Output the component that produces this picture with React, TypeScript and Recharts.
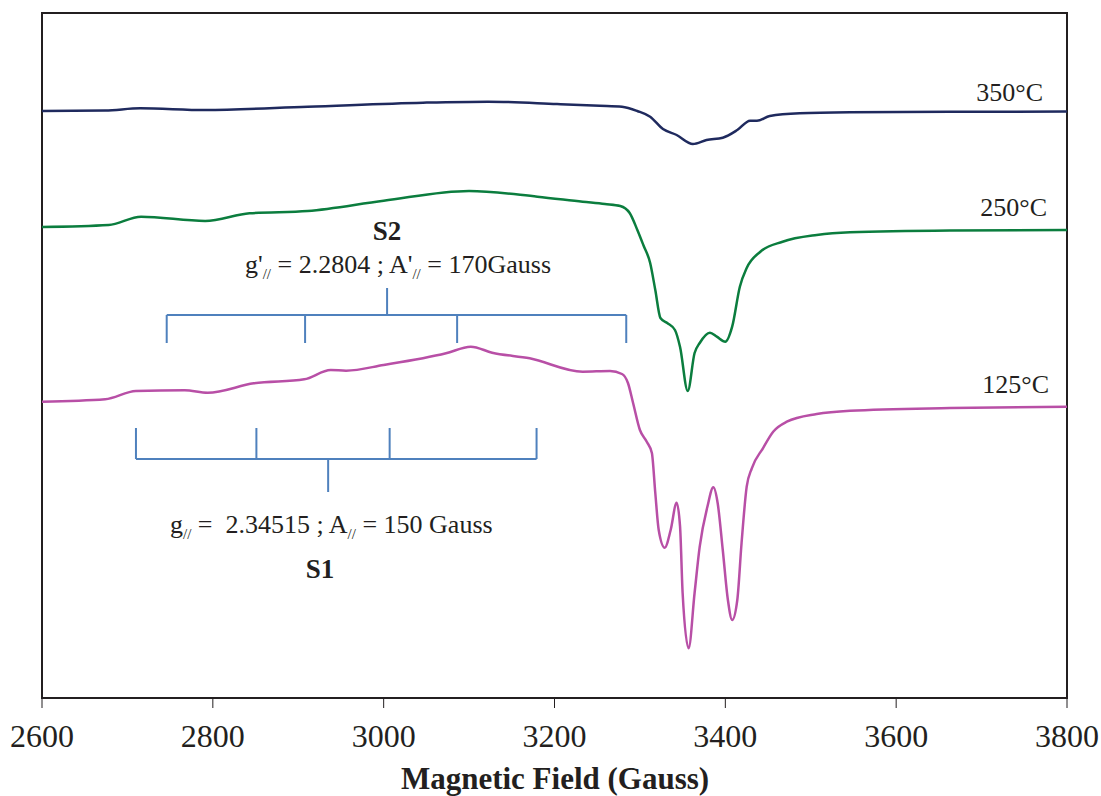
import { LineChart, Line, XAxis, YAxis, ReferenceLine, ReferenceArea } from "recharts";

// EPR spectra, field in Gauss, signal in arbitrary units (stacked with offsets)
const FIELD_TICKS = [2600, 2800, 3000, 3200, 3400, 3600, 3800];

const field350 = [2600, 2674, 2715, 2791, 2911, 3046, 3122, 3203, 3253, 3279, 3297, 3312, 3327, 3343, 3362, 3378, 3397, 3414, 3429, 3437, 3452, 3487, 3546, 3663, 3800];
const signal350 = [587, 587.5, 589.7, 588, 591.3, 595.3, 596.3, 594, 592.3, 591.3, 587, 581.3, 569, 563, 554, 558, 560.3, 568, 577.3, 577.3, 582, 584.7, 585.7, 586.2, 586.5];

const field250 = [2600, 2678, 2716, 2791, 2843, 2911, 3000, 3100, 3180, 3233, 3259, 3277, 3288, 3297, 3304, 3312, 3318, 3324, 3332, 3341, 3347, 3356, 3364, 3370, 3382, 3390, 3400, 3408, 3417, 3425, 3441, 3467, 3507, 3546, 3663, 3800];
const signal250 = [471, 473, 481.3, 477, 484.7, 487, 497.3, 507, 501.3, 496.3, 494, 492, 485, 468, 453, 435, 408, 380, 375, 368, 351, 307, 345, 355, 365.3, 361.3, 356.3, 371.3, 411.3, 430, 446.3, 456.3, 463, 465.7, 467.5, 468];

const field125 = [2600, 2674, 2710, 2767, 2794, 2848, 2907, 2938, 2956, 3000, 3073, 3102, 3127, 3171, 3233, 3265, 3279, 3286, 3292, 3300, 3308, 3314, 3318, 3322, 3329, 3336, 3343, 3347, 3350, 3357, 3364, 3370, 3379, 3386, 3391, 3397, 3403, 3408, 3414, 3419, 3425, 3431, 3444, 3456, 3472, 3507, 3546, 3663, 3800];
const signal125 = [296.3, 298.7, 307, 307.7, 305.3, 314.7, 318.7, 328, 327.3, 333, 344.7, 351.3, 345.3, 339.7, 326.3, 327, 324, 315, 295, 268, 256.3, 245, 205, 168, 150.3, 168, 195.3, 171.3, 105, 49.7, 105, 151.3, 191.3, 210.7, 195, 148, 98, 78, 98, 155, 211.3, 229.7, 249.7, 266.3, 276.3, 284, 287.3, 290, 291.3];

// hyperfine stick diagrams
const s2Lines = [2746, 2908, 3086, 3284];
const s2Center = 3004;
const s2Level = [355, 383, 410]; // tick bottom, bar, stem top
const s1Lines = [2710, 2851, 3007, 3179];
const s1Center = 2935;
const s1Level = [270, 239, 206]; // tick top, bar, stem bottom

const toRows = (xs: number[], ys: number[]) => xs.map((x, i) => ({ x, y: ys[i] }));
const data350 = toRows(field350, signal350);
const data250 = toRows(field250, signal250);
const data125 = toRows(field125, signal125);

const FONT = "'Liberation Serif', 'Times New Roman', serif";
const INK = "#231f20";
const STICK = "#4f81bd";

const FieldTick = (props: any) => {
  const { x, y, payload } = props;
  return (
    <text x={x} y={y + 37} textAnchor="middle" fontSize={32} fontFamily={FONT} fill={INK}>
      {payload.value}
    </text>
  );
};

const Sub = ({ children }: { children: string }) => (
  <>
    <tspan dy={6} fontSize={15}>{children}</tspan>
    <tspan dy={-6}> </tspan>
  </>
);

function Stick({ lines, center, level }: { lines: number[]; center: number; level: number[] }) {
  const [tick, bar, stem] = level;
  return (
    <>
      <ReferenceLine segment={[{ x: lines[0], y: bar }, { x: lines[lines.length - 1], y: bar }]} stroke={STICK} strokeWidth={2} />
      {lines.map((f) => (
        <ReferenceLine key={f} segment={[{ x: f, y: bar }, { x: f, y: tick }]} stroke={STICK} strokeWidth={2} />
      ))}
      <ReferenceLine segment={[{ x: center, y: bar }, { x: center, y: stem }]} stroke={STICK} strokeWidth={2} />
    </>
  );
}

export default function App() {
  return (
    <div style={{ position: "absolute", left: 0, top: 0, background: "#fff" }}>
      <LineChart width={1101} height={796} margin={{ top: 13, right: 34, left: 42, bottom: 0 }}>
        <XAxis
          dataKey="x"
          type="number"
          domain={[2600, 3800]}
          ticks={FIELD_TICKS}
          allowDataOverflow
          height={98}
          tickSize={10}
          tick={<FieldTick />}
          axisLine={{ stroke: INK, strokeWidth: 2 }}
          tickLine={{ stroke: INK, strokeWidth: 1 }}
        />
        <YAxis hide domain={[0, 685]} type="number" allowDataOverflow />
        <ReferenceArea x1={2600} x2={3800} y1={0} y2={685} fill="none" stroke={INK} strokeWidth={2} />

        {Stick({ lines: s2Lines, center: s2Center, level: s2Level })}
        {Stick({ lines: s1Lines, center: s1Center, level: s1Level })}

        <Line data={data350} dataKey="y" type="monotone" stroke="#1f2a5e" strokeWidth={2.5} dot={false} isAnimationActive={false} />
        <Line data={data250} dataKey="y" type="monotone" stroke="#0b7d3e" strokeWidth={2.5} dot={false} isAnimationActive={false} />
        <Line data={data125} dataKey="y" type="monotone" stroke="#b84fa6" strokeWidth={2.5} dot={false} isAnimationActive={false} />

        <g fontFamily={FONT} fill={INK}>
          <text x={1043} y={101} textAnchor="end" fontSize={26}>350°C</text>
          <text x={1047} y={216} textAnchor="end" fontSize={26}>250°C</text>
          <text x={1049} y={393} textAnchor="end" fontSize={26}>125°C</text>

          <text x={387} y={240} textAnchor="middle" fontSize={27} fontWeight="bold">S2</text>
          <text x={245} y={273} fontSize={26} style={{ whiteSpace: "pre" }}>
            g'<Sub>//</Sub>= 2.2804 ; A'<Sub>//</Sub>= 170Gauss
          </text>

          <text x={170} y={533} fontSize={26} style={{ whiteSpace: "pre" }}>
            g<Sub>//</Sub>=  2.34515 ; A<Sub>//</Sub>= 150 Gauss
          </text>
          <text x={320} y={578} textAnchor="middle" fontSize={27} fontWeight="bold">S1</text>

          <text x={555} y={789} textAnchor="middle" fontSize={31} fontWeight="bold">Magnetic Field (Gauss)</text>
        </g>
      </LineChart>
    </div>
  );
}
